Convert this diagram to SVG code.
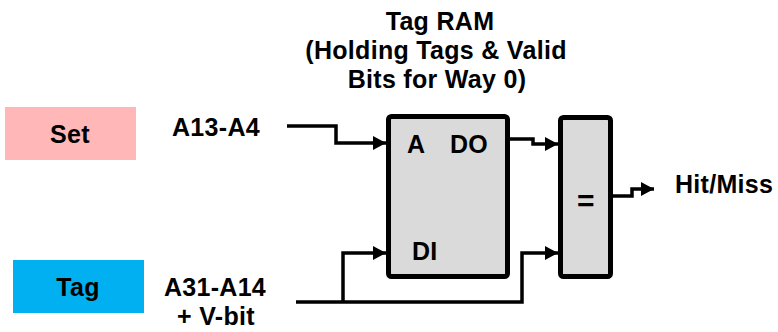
<svg xmlns="http://www.w3.org/2000/svg" width="778" height="332" viewBox="0 0 778 332">
<style>
text{font-family:"Liberation Sans",Arial,sans-serif;font-weight:bold;font-size:25px;fill:#000;letter-spacing:0.3px}
.c{text-anchor:middle}
.w{fill:none;stroke:#000;stroke-width:3.5;stroke-linejoin:miter}
.box{fill:#DADADA;stroke:#000;stroke-width:5}
</style>
<defs>
<marker id="ah" markerUnits="userSpaceOnUse" viewBox="0 0 13 14" refX="13" refY="7" markerWidth="13" markerHeight="14" orient="auto">
<path d="M0,0 L13,7 L0,14 z" fill="#000"/>
</marker>
</defs>
<g id="title">
<text class="c" x="440" y="30">Tag RAM</text>
<text class="c" x="436" y="59">(Holding Tags &amp; Valid</text>
<text class="c" x="437" y="88">Bits for Way 0)</text>
</g>
<g id="set">
<rect x="5" y="107" width="131" height="53" fill="#FFB7B7"/>
<text class="c" x="70" y="143">Set</text>
</g>
<g id="tag">
<rect x="13" y="260" width="131" height="53" fill="#00B0F0"/>
<text class="c" x="78" y="296">Tag</text>
</g>
<g id="setlabel"><text class="c" x="216" y="136">A13-A4</text></g>
<g id="taglabel">
<text class="c" x="215" y="296">A31-A14</text>
<text class="c" x="216" y="325">+ V-bit</text>
</g>
<g id="tagram">
<rect class="box" x="388.5" y="116.5" width="119" height="160" rx="3"/>
<text x="407" y="153">A</text>
<text x="450" y="153">DO</text>
<text x="412" y="260">DI</text>
</g>
<g id="comparator">
<rect class="box" x="560.5" y="117.5" width="50" height="159" rx="3"/>
<text class="c" x="586" y="211" style="font-size:30px">=</text>
</g>
<g id="hitmiss"><text x="675" y="193">Hit/Miss</text></g>
<g id="connectors">
<path class="w" d="M287,126 H336 V143 H386" marker-end="url(#ah)"/>
<path class="w" d="M296,302 H522 V253 H558" marker-end="url(#ah)"/>
<path class="w" d="M343,302 V253 H386" marker-end="url(#ah)"/>
<path class="w" d="M510,139 H533 V144 H558" marker-end="url(#ah)"/>
<path class="w" d="M613,196 H632 V189 H654" marker-end="url(#ah)"/>
</g>
</svg>
